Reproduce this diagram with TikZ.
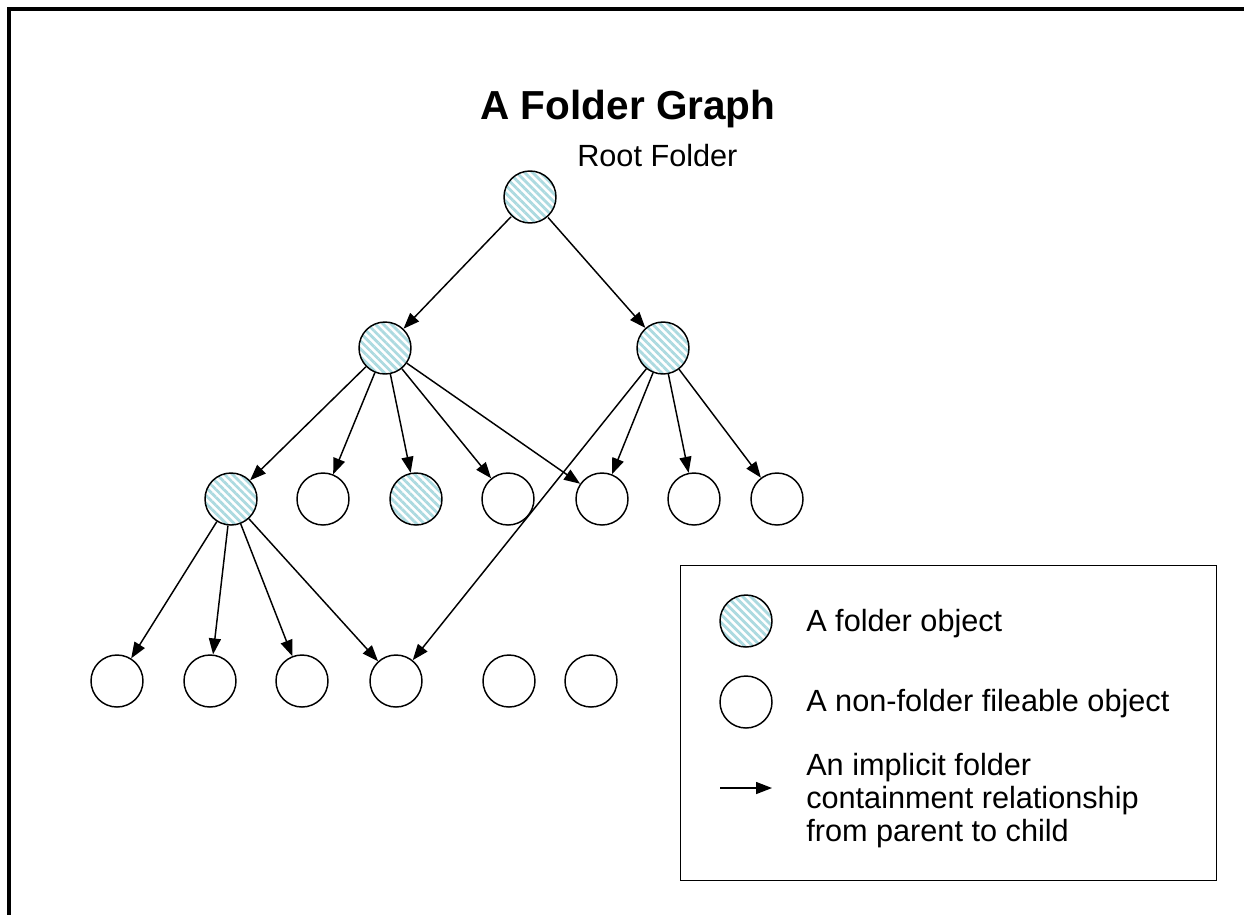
\documentclass[tikz,border=0pt]{standalone}
\usepackage{fontspec}
\setmainfont{Liberation Sans}
\usetikzlibrary{arrows.meta,patterns.meta}
\definecolor{hatch}{RGB}{172,218,224}
\tikzset{
  obj/.style={circle,draw=black,line width=1.1pt,minimum size=39pt,inner sep=0pt,fill=white},
  folder/.style={obj,preaction={fill=white},pattern={Lines[angle=-45,distance=4.2pt,line width=2.1pt]},pattern color=hatch},
  arr/.style={line width=1.1pt,-{Triangle[length=12pt,width=9pt]}},
  txt/.style={font=\fontsize{23}{28}\selectfont,anchor=base west,inner sep=0pt},
}
\begin{document}
\begin{tikzpicture}[x=0.75pt,y=-0.75pt]
\useasboundingbox (0,0) rectangle (1244,915);
\draw[line width=2.6pt,line join=miter] (1244,9) -- (9,9) -- (9,915);
\node[font=\fontsize{30.4}{36}\selectfont\bfseries,anchor=base,inner sep=0pt] (title) at (628,119) {A Folder Graph};
% nodes
\node[folder] (root) at (530,197) {};
\node[txt] (rootlbl) at (577,166) {Root Folder};
\node[folder] (a) at (385,348) {};
\node[folder] (b) at (663,348) {};
\node[folder] (c1) at (231,499) {};
\node[obj] (c2) at (323,499) {};
\node[folder] (c3) at (416,499) {};
\node[obj] (c4) at (508,499) {};
\node[obj] (c5) at (602,499) {};
\node[obj] (c6) at (694,499) {};
\node[obj] (c7) at (777,499) {};
\node[obj] (e1) at (117,681) {};
\node[obj] (e2) at (210,681) {};
\node[obj] (e3) at (302,681) {};
\node[obj] (e4) at (396,681) {};
\node[obj] (e5) at (509,681) {};
\node[obj] (e6) at (591,681) {};
% edges
\draw[arr] (root) -- (a);
\draw[arr] (root) -- (b);
\foreach \t in {c1,c2,c3,c4,c5} \draw[arr] (a) -- (\t);
\foreach \t in {e4,c5,c6,c7} \draw[arr] (b) -- (\t);
\foreach \t in {e1,e2,e3,e4} \draw[arr] (c1) -- (\t);
% legend
\node[draw=black,line width=0.8pt,minimum width=402pt,minimum height=236.25pt,anchor=north west,inner sep=0pt] (legend) at (680,565) {};
\node[folder] (lf) at (746,621) {};
\node[txt] (lft) at (806,631) {A folder object};
\node[obj] (lo) at (746,702) {};
\node[txt] (lot) at (806,711) {A non-folder fileable object};
\coordinate (la1) at (720,788);
\coordinate (la2) at (772,788);
\draw[arr] (la1) -- (la2);
\node[txt] (lat1) at (806,775) {An implicit folder};
\node[txt] (lat2) at (806,808) {containment relationship};
\node[txt] (lat3) at (806,841) {from parent to child};
\end{tikzpicture}
\end{document}
